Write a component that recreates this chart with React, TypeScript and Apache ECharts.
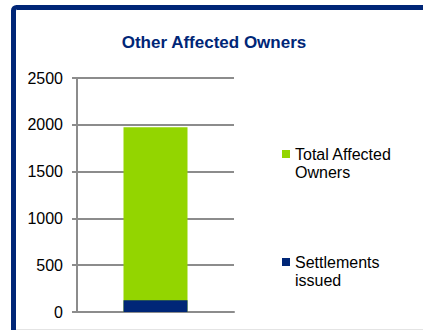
import React, { useEffect, useRef } from "react";
import * as echarts from "echarts";

const categories = [""];
const totalAffectedOwners = [1975];
const settlementsIssued = [125];
const yTicks = { min: 0, max: 2500, interval: 500 };

const NAVY = "#002677";
const GREEN = "#93D500";
const FONT = "'Liberation Sans', Arial, sans-serif";

export default function App() {
  const ref = useRef<HTMLDivElement>(null);

  useEffect(() => {
    if (!ref.current) return;
    const chart = echarts.init(ref.current, null, { renderer: "svg" });
    const legendText = {
      color: "#000",
      fontFamily: FONT,
      fontSize: 16,
      lineHeight: 18,
    };
    // a blank leading line keeps the first text line level with the swatch
    const twoLine = (a: string, b: string) => `\u00a0\n${a}\n${b}`;
    chart.setOption({
      animation: false,
      backgroundColor: "#fff",
      title: {
        text: "Other Affected Owners",
        left: 209,
        textAlign: "center",
        top: 29,
        textStyle: { color: NAVY, fontFamily: FONT, fontSize: 17, fontWeight: "bold" },
      },
      legend: [
        {
          data: ["Total Affected Owners"],
          orient: "vertical",
          left: 282,
          top: 127,
          padding: 0,
          itemWidth: 8,
          itemHeight: 8,
          itemGap: 0,
          icon: "rect",
          formatter: () => twoLine("Total Affected", "Owners"),
          textStyle: legendText,
        },
        {
          data: ["Settlements issued"],
          orient: "vertical",
          left: 282,
          top: 235,
          padding: 0,
          itemWidth: 8,
          itemHeight: 8,
          itemGap: 0,
          icon: "rect",
          formatter: () => twoLine("Settlements", "issued"),
          textStyle: legendText,
        },
      ],
      grid: { left: 77, right: 189, top: 78, bottom: 18, containLabel: false },
      xAxis: {
        type: "category",
        data: categories,
        axisLine: { show: true, lineStyle: { color: "#8c8c8c", width: 2 } },
        axisTick: { show: false },
        axisLabel: { show: false },
      },
      yAxis: {
        type: "value",
        min: yTicks.min,
        max: yTicks.max,
        interval: yTicks.interval,
        axisLine: { show: true, lineStyle: { color: "#8c8c8c", width: 2 } },
        axisTick: { show: true, length: 5, lineStyle: { color: "#8c8c8c", width: 2 } },
        axisLabel: {
          color: "#000",
          fontFamily: FONT,
          fontSize: 16,
          margin: 14,
          formatter: (v: number) => String(v),
        },
        splitLine: { show: true, lineStyle: { color: "#8c8c8c", width: 2 } },
      },
      series: [
        {
          name: "Total Affected Owners",
          type: "bar",
          data: totalAffectedOwners,
          barWidth: 64,
          barGap: "-100%",
          itemStyle: { color: GREEN },
        },
        {
          name: "Settlements issued",
          type: "bar",
          data: settlementsIssued,
          barWidth: 64,
          barGap: "-100%",
          itemStyle: { color: NAVY },
        },
      ],
      graphic: [
        {
          type: "rect",
          shape: { x: 13.5, y: 7.5, width: 600, height: 500, r: 3 },
          style: { fill: "none", stroke: NAVY, lineWidth: 5 },
          silent: true,
        },
        {
          type: "line",
          shape: { x1: 16, y1: 329.5, x2: 423, y2: 329.5 },
          style: { stroke: "#e4e4e4", lineWidth: 1 },
          silent: true,
        },
      ],
    });
    return () => chart.dispose();
  }, []);

  return (
    <div style={{ position: "fixed", left: 0, top: 0, width: 423, height: 330 }}>
      <div ref={ref} style={{ width: 423, height: 330 }} />
    </div>
  );
}
